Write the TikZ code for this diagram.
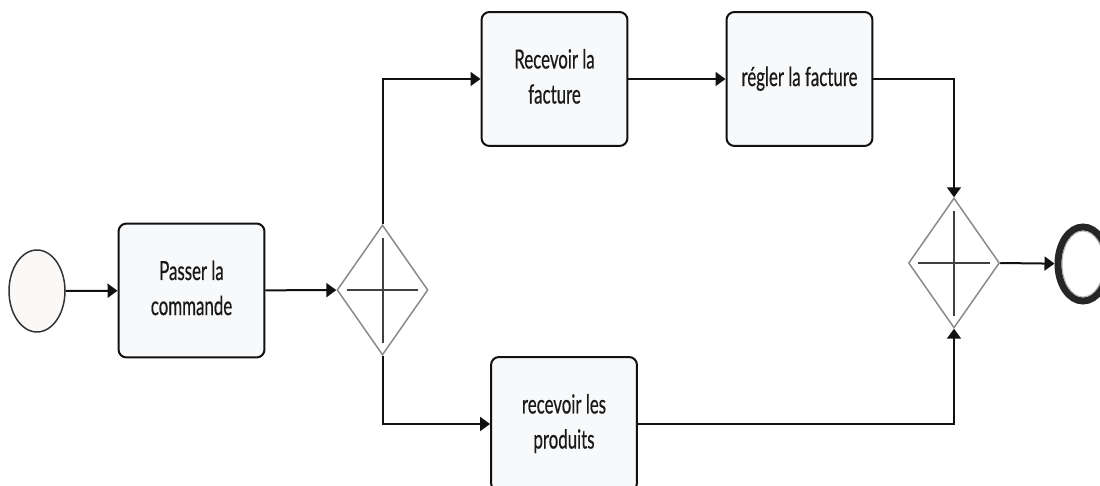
\documentclass[tikz,border=0pt]{standalone}
\usepackage{graphicx}
\usepackage{fontspec}
\setmainfont{Lato}[FakeBold=0.7]
\usetikzlibrary{shapes.geometric,arrows.meta}

% condensed, centred multi-line label
\newcommand{\tasklabel}[1]{\scalebox{0.64}[1]{\fontsize{15pt}{19pt}\selectfont\renewcommand{\arraystretch}{1.05}\begin{tabular}{@{}c@{}}#1\end{tabular}}}

\definecolor{taskfill}{HTML}{F8F9FA}
\definecolor{eventfill}{HTML}{FBF9F7}
\definecolor{gwline}{HTML}{8A8A8A}
\definecolor{gwmark}{HTML}{404040}
\definecolor{inkline}{HTML}{111111}

\begin{document}
\begin{tikzpicture}[x=0.02cm, y=-0.02cm,
  task/.style={draw=inkline, line width=0.04cm, fill=taskfill, rounded corners=0.16cm,
               minimum width=2.92cm, minimum height=2.68cm, inner sep=0pt, text=black!90},
  gateway/.style={diamond, draw=gwline, line width=0.03cm, fill=white,
               minimum width=1.82cm, minimum height=2.6cm, inner sep=0pt},
  flow/.style={draw=inkline, line width=0.04cm, -{Triangle[length=0.2cm,width=0.28cm]}},
  gwcross/.style={draw=gwmark, line width=0.04cm}
]
\useasboundingbox (0,0) rectangle (1100,486);
\clip (0,0) rectangle (1100,486);

% events
\node[ellipse, draw=black!80, line width=0.03cm, fill=eventfill,
      minimum width=1.12cm, minimum height=1.64cm, inner sep=0pt] (start) at (37,291) {};
\node[ellipse, draw=black!85, line width=0.14cm, fill=white,
      minimum width=1.0cm, minimum height=1.48cm, inner sep=0pt] (end) at (1083,264) {};
\draw[gray!60, line width=0.02cm] (end.center) ellipse [x radius=0.42cm, y radius=0.66cm];

% tasks
\node[task] (pc) at (191.5,290.5) {\tasklabel{Passer la\\commande}};
\node[task] (rf) at (554.5,79) {\tasklabel{Recevoir la\\facture}};
\node[task] (rg) at (799.5,79) {\tasklabel{régler la facture}};
\node[task] (rp) at (564,424) {\tasklabel{recevoir les\\produits}};

% parallel gateways
\node[gateway] (g1) at (382.5,290) {};
\node[gateway] (g2) at (954,263) {};
\foreach \g in {g1,g2}{
  \draw[gwcross] ([xshift=-0.72cm]\g.center) -- ([xshift=0.72cm]\g.center);
  \draw[gwcross] ([yshift=1.04cm]\g.center) -- ([yshift=-1.06cm]\g.center);
}

% sequence flows
\draw[flow] (start) -- (pc);
\draw[flow] (pc) -- (g1);
\draw[flow] (g1.north) |- (rf.west);
\draw[flow] (rf) -- (rg);
\draw[flow] (rg.east) -| (g2.north);
\draw[flow] (g1.south) |- (rp.west);
\draw[flow] (rp.east) -| (g2.south);
\draw[flow] (g2.east) -- (end);
\end{tikzpicture}
\end{document}
